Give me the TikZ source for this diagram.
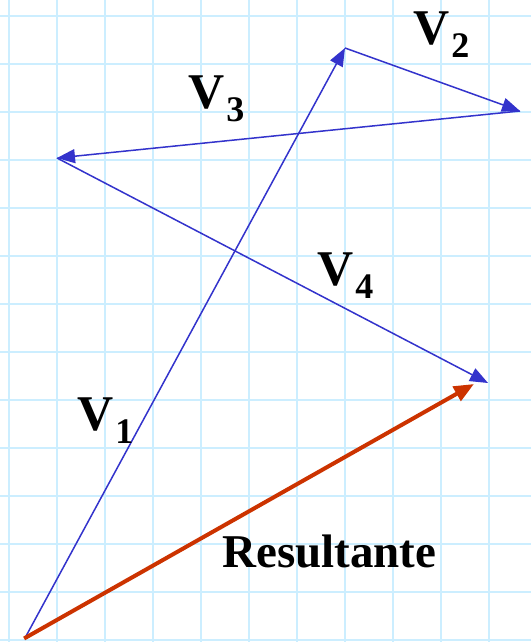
\documentclass[tikz,border=0pt]{standalone}
\usepackage{fontspec}
\setmainfont{Liberation Serif}
\usetikzlibrary{arrows.meta}
\definecolor{gridblue}{HTML}{CCEEFF}
\definecolor{vecblue}{HTML}{3333CC}
\definecolor{resred}{HTML}{CC3300}
\tikzset{
  gridline/.style={gridblue, line width=2pt},
  vec/.style={vecblue, line width=1.5pt, -{Triangle[length=18pt,width=14pt]}},
  resvec/.style={resred, line width=4pt, -{Triangle[length=20pt,width=16pt]}},
  vlabel/.style={anchor=base west, inner sep=0pt, font=\fontsize{50}{50}\selectfont\bfseries},
  rlabel/.style={inner sep=0pt, font=\fontsize{47}{47}\selectfont\bfseries}
}
\newcommand{\vsub}[1]{\textbf{V}\hspace{2pt}\raisebox{-13pt}{\fontsize{36}{36}\selectfont\bfseries #1}}
\begin{document}
\begin{tikzpicture}[x=1pt,y=-1pt]
\useasboundingbox (0,0) rectangle (531,642);
\fill[white] (0,0) rectangle (531,642);
\foreach \k in {0,...,10} { \draw[gridline] (9+48*\k,0) -- (9+48*\k,642); }
\foreach \k in {0,...,13} { \draw[gridline] (0,16+48*\k) -- (531,16+48*\k); }
\coordinate (O) at (25,638);
\coordinate (A) at (345,48);
\coordinate (B) at (520,111);
\coordinate (C) at (57,158);
\coordinate (D) at (488,383);
\coordinate (R) at (474,384);
\draw[vec] (O) -- (A);
\draw[vec] (A) -- (B);
\draw[vec] (B) -- (C);
\draw[vec] (C) -- (D);
\draw[resvec, shorten <=-1pt] (O) -- (R);
\node[vlabel] (l1) at (77,430) {\vsub{1}};
\node[vlabel] (l2) at (413,45) {\vsub{2}};
\node[vlabel] (l3) at (188,108) {\vsub{3}};
\node[vlabel] (l4) at (317,285) {\vsub{4}};
\node[rlabel, anchor=base west] (res) at (222,567) {Resultante};
\end{tikzpicture}
\end{document}
